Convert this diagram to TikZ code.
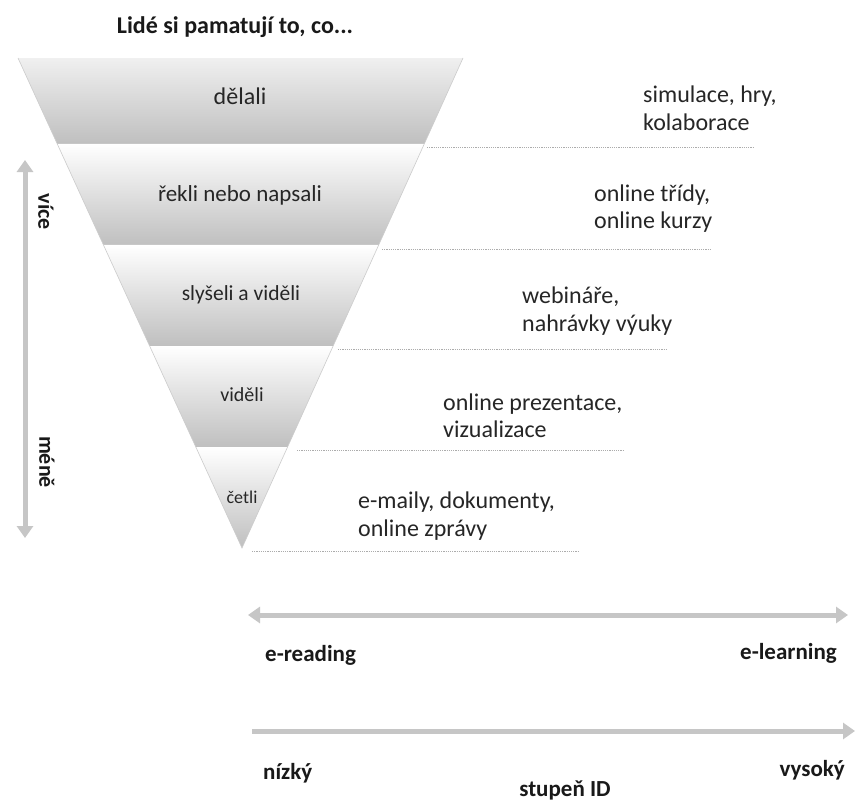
\documentclass[tikz,border=0pt]{standalone}
\usepackage{fontspec}
\setmainfont{Carlito}
\usetikzlibrary{arrows.meta,calc}
\newcommand{\fsz}[1]{\fontsize{#1}{#1}\selectfont}
\tikzset{ptip/.tip={Triangle[width=16pt,length=12pt]}}
\begin{document}
\begin{tikzpicture}[x=1pt,y=-1pt,
  level/.style={inner sep=0pt, text=black!85},
  side/.style={font=\fontsize{24}{27.5}\selectfont, align=left, anchor=west,
    inner sep=0pt, text=black!85},
  boldlbl/.style={font=\bfseries\fontsize{23}{26}\selectfont, inner sep=0pt, text=black!90},
  divider/.style={gray!65, line width=0.8pt, dash pattern=on 1.2pt off 1pt},
  band/.style={top color=white, bottom color=gray!50, draw=none},
  scalearrow/.style={draw=gray!45, line width=5pt}
]
\useasboundingbox (0,0) rectangle (855,803);
\fill[white] (0,0) rectangle (855,803);

% inverted pyramid
\coordinate (TL) at (18,58);
\coordinate (TR) at (463,58);
\coordinate (AP) at (242,548);
\foreach \n/\t in {1/0.1755,2/0.3816,3/0.5878,4/0.7939} {
  \coordinate (L\n) at ($(TL)!\t!(AP)$);
  \coordinate (R\n) at ($(TR)!\t!(AP)$);
}
\shade[band, top color=gray!12] (TL) -- (TR) -- (R1) -- (L1) -- cycle;
\shade[band] (L1) -- (R1) -- (R2) -- (L2) -- cycle;
\shade[band] (L2) -- (R2) -- (R3) -- (L3) -- cycle;
\shade[band] (L3) -- (R3) -- (R4) -- (L4) -- cycle;
\shade[band] (L4) -- (R4) -- (AP) -- cycle;
\draw[gray!40, line width=0.6pt] (TL) -- (AP) -- (TR);

\node[boldlbl, font=\bfseries\fsz{24}] (title) at (235,27) {Lidé si pamatují to, co...};

\node[level, font=\fsz{24}] (p1) at (240,96) {dělali};
\node[level, font=\fsz{23}] (p2) at (240,195) {řekli nebo napsali};
\node[level, font=\fsz{21.5}] (p3) at (241,295) {slyšeli a viděli};
\node[level, font=\fsz{20}] (p4) at (242,395) {viděli};
\node[level, font=\fsz{18}] (p5) at (242,497) {četli};

% dotted dividers on the right
\coordinate (s1) at (427,147); \coordinate (e1) at (753,147);
\coordinate (s2) at (382,249); \coordinate (e2) at (710,249);
\coordinate (s3) at (338,349); \coordinate (e3) at (668,349);
\coordinate (s4) at (297,450); \coordinate (e4) at (623,450);
\coordinate (s5) at (252,551); \coordinate (e5) at (578,551);
\foreach \i in {1,...,5} { \draw[divider] (s\i) -- (e\i); }

% media for each level
\node[side] (m1) at (643,108.5) {simulace, hry,\\kolaborace};
\node[side] (m2) at (594,208.5) {online třídy,\\online kurzy};
\node[side] (m3) at (522,311) {webináře,\\nahrávky výuky};
\node[side] (m4) at (443,416) {online prezentace,\\vizualizace};
\node[side] (m5) at (358,516) {e-maily, dokumenty,\\online zprávy};

% vertical scale
\coordinate (vt) at (25,160);
\coordinate (vb) at (25,538);
\draw[scalearrow, ptip-ptip] (vt) -- (vb);
\node[boldlbl, rotate=-90, font=\bfseries\fsz{22}] (more) at (46,212) {více};
\node[boldlbl, rotate=-90, font=\bfseries\fsz{22}] (less) at (47,462) {méně};

% horizontal scales
\coordinate (h1a) at (248,615);
\coordinate (h1b) at (848,615);
\draw[scalearrow, ptip-ptip] (h1a) -- (h1b);
\node[boldlbl, anchor=west] (er) at (265,655) {e-reading};
\node[boldlbl, anchor=east] (el) at (837,653) {e-learning};

\coordinate (h2a) at (252,731);
\coordinate (h2b) at (855,731);
\draw[scalearrow, -ptip] (h2a) -- (h2b);
\node[boldlbl, anchor=west] (lo) at (263,773) {nízký};
\node[boldlbl, anchor=east] (hi) at (845,770) {vysoký};
\node[boldlbl] (deg) at (565,790) {stupeň ID};
\end{tikzpicture}
\end{document}
